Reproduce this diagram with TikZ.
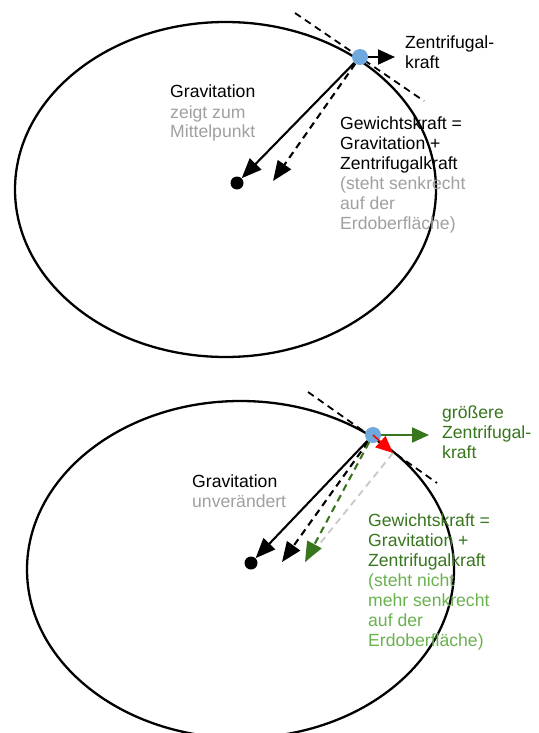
\documentclass[tikz,border=0pt]{standalone}
\usepackage{fontspec}
\setmainfont{Liberation Sans}
\usetikzlibrary{arrows.meta}
\definecolor{dotblue}{RGB}{111,168,220}
\definecolor{dkgreen}{RGB}{56,118,29}
\definecolor{ltgreen}{RGB}{106,178,79}
\definecolor{txtgray}{RGB}{160,160,160}
\definecolor{lngray}{RGB}{200,200,200}
\definecolor{tipred}{RGB}{255,0,0}
\begin{document}
\begin{tikzpicture}[x=1pt,y=-1pt,
  earth/.style={line width=2.3pt, draw=black},
  tangent/.style={line width=1.8pt, dash pattern=on 7pt off 5pt},
  force/.style={line width=2.1pt, -{Triangle[length=20pt,width=16pt]}},
  dforce/.style={force, dash pattern=on 7pt off 5pt},
  point/.style={circle, fill=dotblue, minimum size=16pt, inner sep=0pt},
  middot/.style={circle, fill=black, minimum size=13pt, inner sep=0pt},
  lbl/.style={inner sep=0pt, anchor=base west, align=left, font=\fontsize{17.6}{20}\selectfont},
]
\useasboundingbox[fill=white] (0,0) rectangle (538,733);

% ---------- top figure ----------
\draw[earth] (225.5,189.5) ellipse [x radius=210.5pt, y radius=167.5pt];
\coordinate (t1a) at (295,13);
\coordinate (t1b) at (424,101);
\draw[tangent] (t1a) -- (t1b);
\node[point] (p1) at (360,57) {};
\node[middot] (c1) at (237,183) {};
\coordinate (zt1) at (395,57);
\coordinate (gw1) at (273,181);
\draw[force, -{Triangle[length=17pt,width=15pt]}] (p1) -- (zt1);
\draw[force] (p1) -- (c1);
\draw[dforce] (p1) -- (gw1);

\node[lbl] (grav1) at (170,138) {Gravitation\\\textcolor{txtgray}{zeigt zum}\\\textcolor{txtgray}{Mittelpunkt}};
\node[lbl] (zf1) at (405,69) {Zentrifugal-\\kraft};
\node[lbl] (gk1) at (340,229) {Gewichtskraft =\\Gravitation +\\Zentrifugalkraft\\\textcolor{txtgray}{(steht senkrecht}\\\textcolor{txtgray}{auf der}\\\textcolor{txtgray}{Erdoberfläche)}};

% ---------- bottom figure ----------
\draw[earth] (240.5,569.5) ellipse [x radius=213.5pt, y radius=168.5pt];
\coordinate (t2a) at (308,392);
\coordinate (t2b) at (437,483);
\draw[tangent] (t2a) -- (t2b);
\node[point] (p2) at (373,435) {};
\node[middot] (c2) at (251,563) {};
\coordinate (zt2) at (429,435);
\coordinate (rd2) at (393,453);
\coordinate (gwo2) at (282,562);
\coordinate (gwn2) at (305,562);
\draw[lngray, line width=1.8pt, dash pattern=on 7pt off 5pt] (rd2) -- (gwn2);
\draw[force, dkgreen, -{Triangle[length=17pt,width=15pt]}] (p2) -- (zt2);
\draw[force] (p2) -- (c2);
\draw[dforce] (p2) -- (gwo2);
\draw[dforce, dkgreen] (p2) -- (gwn2);
\draw[tipred, line width=1.6pt, -{Triangle[length=17pt,width=15pt]}] (p2.center) -- (rd2);

\node[lbl, text=dkgreen] (zf2) at (442,458) {größere\\Zentrifugal-\\kraft};
\node[lbl] (grav2) at (192,507) {Gravitation\\\textcolor{txtgray}{unverändert}};
\node[lbl, text=dkgreen] (gk2) at (368,646) {Gewichtskraft =\\Gravitation +\\Zentrifugalkraft\\\textcolor{ltgreen}{(steht nicht}\\\textcolor{ltgreen}{mehr senkrecht}\\\textcolor{ltgreen}{auf der}\\\textcolor{ltgreen}{Erdoberfläche)}};
\end{tikzpicture}
\end{document}
